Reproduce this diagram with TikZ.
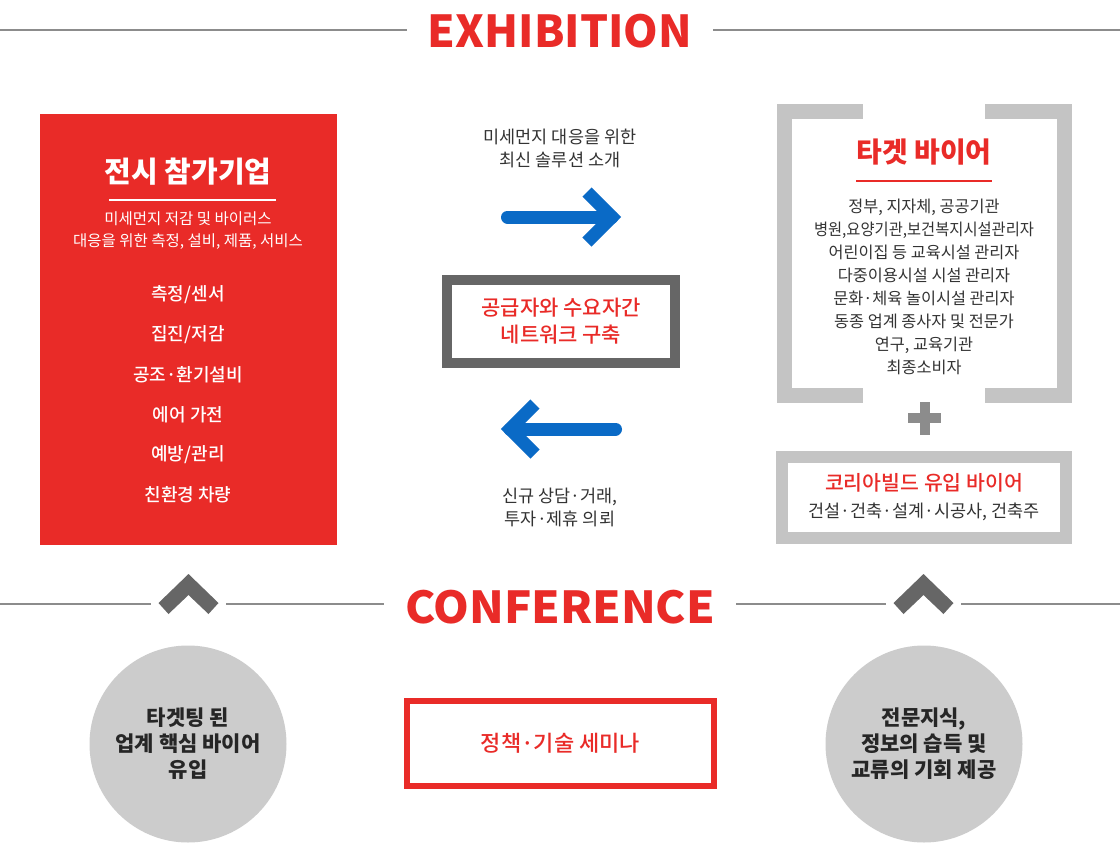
\documentclass[tikz,border=0pt]{standalone}
\usepackage{fontspec}
\setmainfont{Noto Sans CJK KR}
\IfFontExistsTF{Noto Sans CJK KR Medium}
  {\newfontfamily\mediumfont{Noto Sans CJK KR Medium}}
  {\newcommand\mediumfont{\bfseries}}
\usepackage{tikz}
\usetikzlibrary{positioning, calc}
\definecolor{kbred}{HTML}{E92B28}
\definecolor{kbblue}{HTML}{0A6AC6}
\definecolor{kbdark}{HTML}{666666}
\definecolor{kblight}{HTML}{C4C4C4}
\definecolor{kbcircle}{HTML}{CCCCCC}
\definecolor{kbtext}{HTML}{333333}
\definecolor{kbrule}{HTML}{8C8C8C}
\tikzset{
  headline/.style={text=kbred,font=\bfseries\fontsize{44}{44}\selectfont,inner ysep=0,inner xsep=21pt,anchor=base},
  rule/.style={kbrule,line width=1.3pt},
  redbox/.style={rectangle,fill=kbred,minimum width=297pt,minimum height=431pt},
  boxtitle/.style={font=\bfseries\fontsize{29}{32}\selectfont,inner sep=0},
  whitetext/.style={text=white,align=center,inner sep=0},
  itemtext/.style={whitetext,font=\mediumfont\fontsize{18}{20}\selectfont},
  note/.style={text=kbtext,align=center,inner sep=0,font=\fontsize{17.5}{23}\selectfont},
  bluearrow/.style={kbblue,line width=13pt,line cap=round},
  bluehead/.style={kbblue,line width=13pt,line cap=butt,line join=miter},
  netbox/.style={draw=kbdark,line width=10pt,fill=white,minimum width=228pt,minimum height=83pt,
    text=kbred,align=center,font=\mediumfont\fontsize{21}{27}\selectfont},
  buyerlist/.style={text=kbtext,align=center,inner sep=0,font=\fontsize{16.3}{23}\selectfont},
  lightbox/.style={draw=kblight,line width=12pt,fill=white,minimum width=284pt,minimum height=81pt},
  plus/.style={draw=kbrule,line width=10pt},
  chevron/.style={fill=kbdark},
  bubble/.style={circle,fill=kbcircle,minimum size=197pt,inner sep=0,align=center,
    text=black!85,font=\bfseries\fontsize{21}{26}\selectfont},
  seminar/.style={draw=kbred,line width=6pt,minimum width=307pt,minimum height=85pt,
    text=kbred,font=\mediumfont\fontsize{22}{24}\selectfont},
}
\begin{document}
\begin{tikzpicture}[x=1pt,y=-1pt]
  \useasboundingbox[fill=white] (0,0) rectangle (1120,847);

  % exhibition header
  \node[headline] (exhibition) at (560,47) {\resizebox{264pt}{\height}{EXHIBITION}};
  \coordinate (exl) at (0,30);
  \coordinate (exr) at (1120,30);
  \draw[rule] (exl) -- (exl -| exhibition.west);
  \draw[rule] (exr -| exhibition.east) -- (exr);

  % exhibitors
  \node[redbox] (exhibitor) at (188.5,329.5) {};
  \node[boxtitle,whitetext] (extitle) at (188,172) {전시 참가기업};
  \draw[white,line width=1.5pt] (109,200) -- (276,200);
  \node[whitetext,font=\fontsize{15.5}{22}\selectfont] (exsub) at (188,231) {미세먼지 저감 및 바이러스\\대응을 위한 측정, 설비, 제품, 서비스};
  \node[itemtext] (item1) at (188,295) {측정/센서};
  \node[itemtext] (item2) at (188,335) {집진/저감};
  \node[itemtext] (item3) at (188,375) {공조·환기설비};
  \node[itemtext] (item4) at (188,415) {에어 가전};
  \node[itemtext] (item5) at (188,455) {예방/관리};
  \node[itemtext] (item6) at (188,495) {친환경 차량};

  % network in the middle
  \node[note] (offer) at (560,148) {미세먼지 대응을 위한\\최신 솔루션 소개};
  \coordinate (ra1) at (507.5,217);
  \coordinate (ra2) at (612,217);
  \draw[bluearrow] (ra1) -- (ra2);
  \draw[bluehead] ($(ra2)+(-25,-25)$) -- (ra2) -- ($(ra2)+(-25,25)$);
  \node[netbox] (network) at (561,321.5) {공급자와 수요자간\\네트워크 구축};
  \coordinate (la1) at (615.5,429);
  \coordinate (la2) at (510,429);
  \draw[bluearrow] (la1) -- (la2);
  \draw[bluehead] ($(la2)+(25,-25)$) -- (la2) -- ($(la2)+(25,25)$);
  \node[note] (request) at (560,507) {신규 상담·거래,\\투자·제휴 의뢰};

  % target buyers
  \fill[kblight] (777,104) rectangle (1072,403);
  \fill[white] (792,119) rectangle (1057,388);
  \fill[white] (863,103) rectangle (985,404);
  \node[boxtitle,text=kbred,font=\bfseries\fontsize{28}{32}\selectfont] (tgtitle) at (924,152) {타겟 바이어};
  \draw[kbred,line width=1.3pt] (856,181) -- (992,181);
  \node[buyerlist] (tglist) at (924,287) {정부, 지자체, 공공기관\\\scalebox{0.94}[1]{병원,요양기관,보건복지시설관리자}\\어린이집 등 교육시설 관리자\\다중이용시설 시설 관리자\\문화·체육 놀이시설 관리자\\동종 업계 종사자 및 전문가\\연구, 교육기관\\최종소비자};
  \draw[plus] (908,418) -- (941,418);
  \draw[plus] (924.5,402) -- (924.5,435);
  \node[lightbox] (kbbox) at (924,497.5) {};
  \node[text=kbred,inner sep=0,font=\mediumfont\fontsize{20.5}{22}\selectfont] (kbtitle) at (924,483) {코리아빌드 유입 바이어};
  \node[buyerlist,font=\fontsize{17.5}{20}\selectfont] (kbsub) at (924,512) {건설·건축·설계·시공사, 건축주};

  % conference header
  \node[headline] (conference) at (560,623) {\resizebox{310pt}{\height}{CONFERENCE}};
  \coordinate (cfl) at (0,604);
  \coordinate (cfr) at (1120,604);
  \coordinate (chl1) at (151,604);
  \coordinate (chl2) at (226,604);
  \coordinate (chr1) at (886,604);
  \coordinate (chr2) at (961,604);
  \draw[rule] (cfl) -- (chl1);
  \draw[rule] (chl2) -- (chl2 -| conference.west);
  \draw[rule] (chr1 -| conference.east) -- (chr1);
  \draw[rule] (chr2) -- (cfr);
  \fill[chevron,shift={(188.5,0)}] (0,574) -- (30,603) -- (20,614) -- (0,595) -- (-20,614) -- (-30,603) -- cycle;
  \fill[chevron,shift={(923.5,0)}] (0,574) -- (30,603) -- (20,614) -- (0,595) -- (-20,614) -- (-30,603) -- cycle;

  % conference contents
  \node[bubble] (targeting) at (188,744) {타겟팅 된\\업계 핵심 바이어\\유입};
  \node[seminar] (seminar) at (560.5,743.5) {정책·기술 세미나};
  \node[bubble] (knowledge) at (924,744) {전문지식,\\정보의 습득 및\\교류의 기회 제공};
\end{tikzpicture}
\end{document}
